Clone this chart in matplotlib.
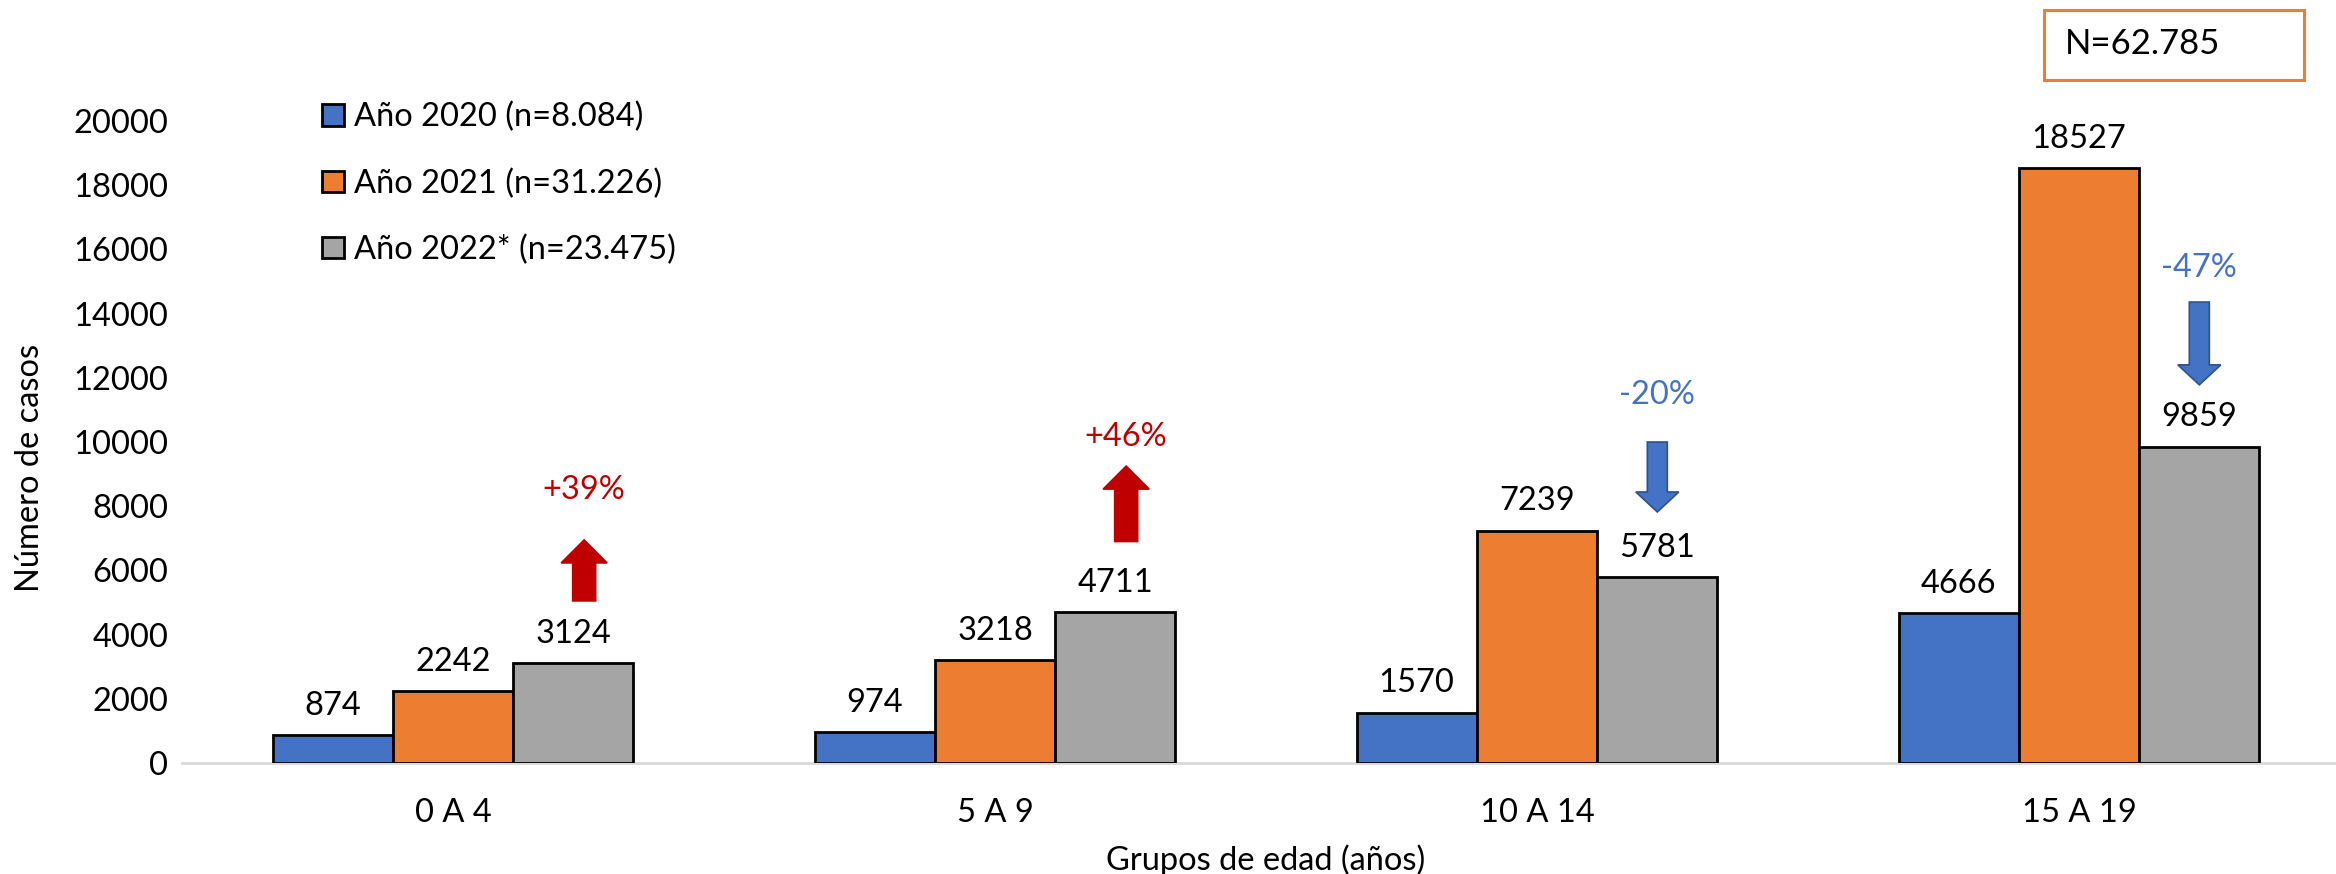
import matplotlib
matplotlib.use("Agg")
import matplotlib.pyplot as plt
import numpy as np
from matplotlib.patches import FancyArrow, Rectangle

plt.rcParams['font.family'] = ['Lato', 'DejaVu Sans']

categories = ["0 A 4", "5 A 9", "10 A 14", "15 A 19"]
series_names = ["Año 2020 (n=8.084)", "Año 2021 (n=31.226)", "Año 2022* (n=23.475)"]
vals_2020 = [874, 974, 1570, 4666]
vals_2021 = [2242, 3218, 7239, 18527]
vals_2022 = [3124, 4711, 5781, 9859]
colors = ["#4472C4", "#ED7D31", "#A5A5A5"]

pct_labels = ["+39%", "+46%", "-20%", "-47%"]
pct_up = [True, True, False, False]
arrow_top = [6950, 9250, 10000, 14360]
arrow_bottom = [5050, 6900, 7820, 11780]
pct_label_y = [8500, 10150, 11460, 15420]
total_label = "N=62.785"

FS = 23.5
W, H = 2336, 874
fig = plt.figure(figsize=(W / 100, H / 100), dpi=100)
ax = fig.add_axes([182 / W, 1 - 763 / H, 2168 / W, 642 / H])

x = np.arange(len(categories))
bw = 0.222
for i, (vals, c, name) in enumerate(zip([vals_2020, vals_2021, vals_2022], colors, series_names)):
    xs = x + (i - 1) * bw
    ax.bar(xs, vals, width=bw, color=c, edgecolor="black", linewidth=2, label=name, zorder=3)
    for xx, v in zip(xs, vals):
        ax.annotate(f"{v}", (xx, v), xytext=(0, 21), textcoords="offset points",
                    ha="center", va="center", fontsize=FS, color="black")

ax.set_xlim(-0.5, 3.5)
ax.set_ylim(0, 20000)
ax.set_yticks(np.arange(0, 20001, 2000))
ax.set_xticks(x)
ax.set_xticklabels(categories)
ax.tick_params(axis="both", length=0, labelsize=FS)
ax.tick_params(axis="y", pad=10)
ax.tick_params(axis="x", pad=25)
for s in ["top", "right", "left"]:
    ax.spines[s].set_visible(False)
ax.spines["bottom"].set_color("#D9D9D9")
ax.spines["bottom"].set_linewidth(2)

# Percent-change arrows and labels
px_per_unit_x = 542.0
y_per_px = 20000 / 642.0
for i in range(len(categories)):
    gx = x[i] + bw
    if pct_up[i]:
        fc, ec, tc = "#C00000", "#C00000", "#C00000"
        shaft, head, hl = 23, 46, 23
        start, d = arrow_bottom[i], arrow_top[i] - arrow_bottom[i]
        gx += 0.02
    else:
        fc, ec, tc = "#4472C4", "#2F528F", "#4472C4"
        shaft, head, hl = 20, 43, 20
        start, d = arrow_top[i], arrow_bottom[i] - arrow_top[i]
    arr = FancyArrow(gx, start, 0, d, width=shaft / px_per_unit_x,
                     head_width=head / px_per_unit_x, head_length=hl * y_per_px,
                     length_includes_head=True, fc=fc, ec=ec, lw=1.2, zorder=4)
    ax.add_patch(arr)
    ax.text(gx, pct_label_y[i], pct_labels[i], ha="center", va="center", fontsize=FS, color=tc)

# Legend
leg = fig.legend(loc="upper left", bbox_to_anchor=(322 / W, 1 - 102 / H), frameon=False,
                 fontsize=FS, handlelength=0.68, handleheight=0.64, handletextpad=0.3,
                 labelspacing=1.1, borderpad=0, borderaxespad=0)

# Axis labels
fig.text(30 / W, 1 - 468 / H, "Número de casos", rotation=90, ha="center", va="center", fontsize=FS)
fig.text(1266 / W, 1 - 860 / H, "Grupos de edad (años)", ha="center", va="center", fontsize=FS)

# N box
fig.patches.append(Rectangle((2044 / W, 1 - 80 / H), 260 / W, 70 / H, transform=fig.transFigure,
                             fill=False, edgecolor="#ED7D31", linewidth=2.2))
fig.text(2065 / W, 1 - 44 / H, total_label, ha="left", va="center", fontsize=25)

fig.savefig("out.png", dpi=100)
